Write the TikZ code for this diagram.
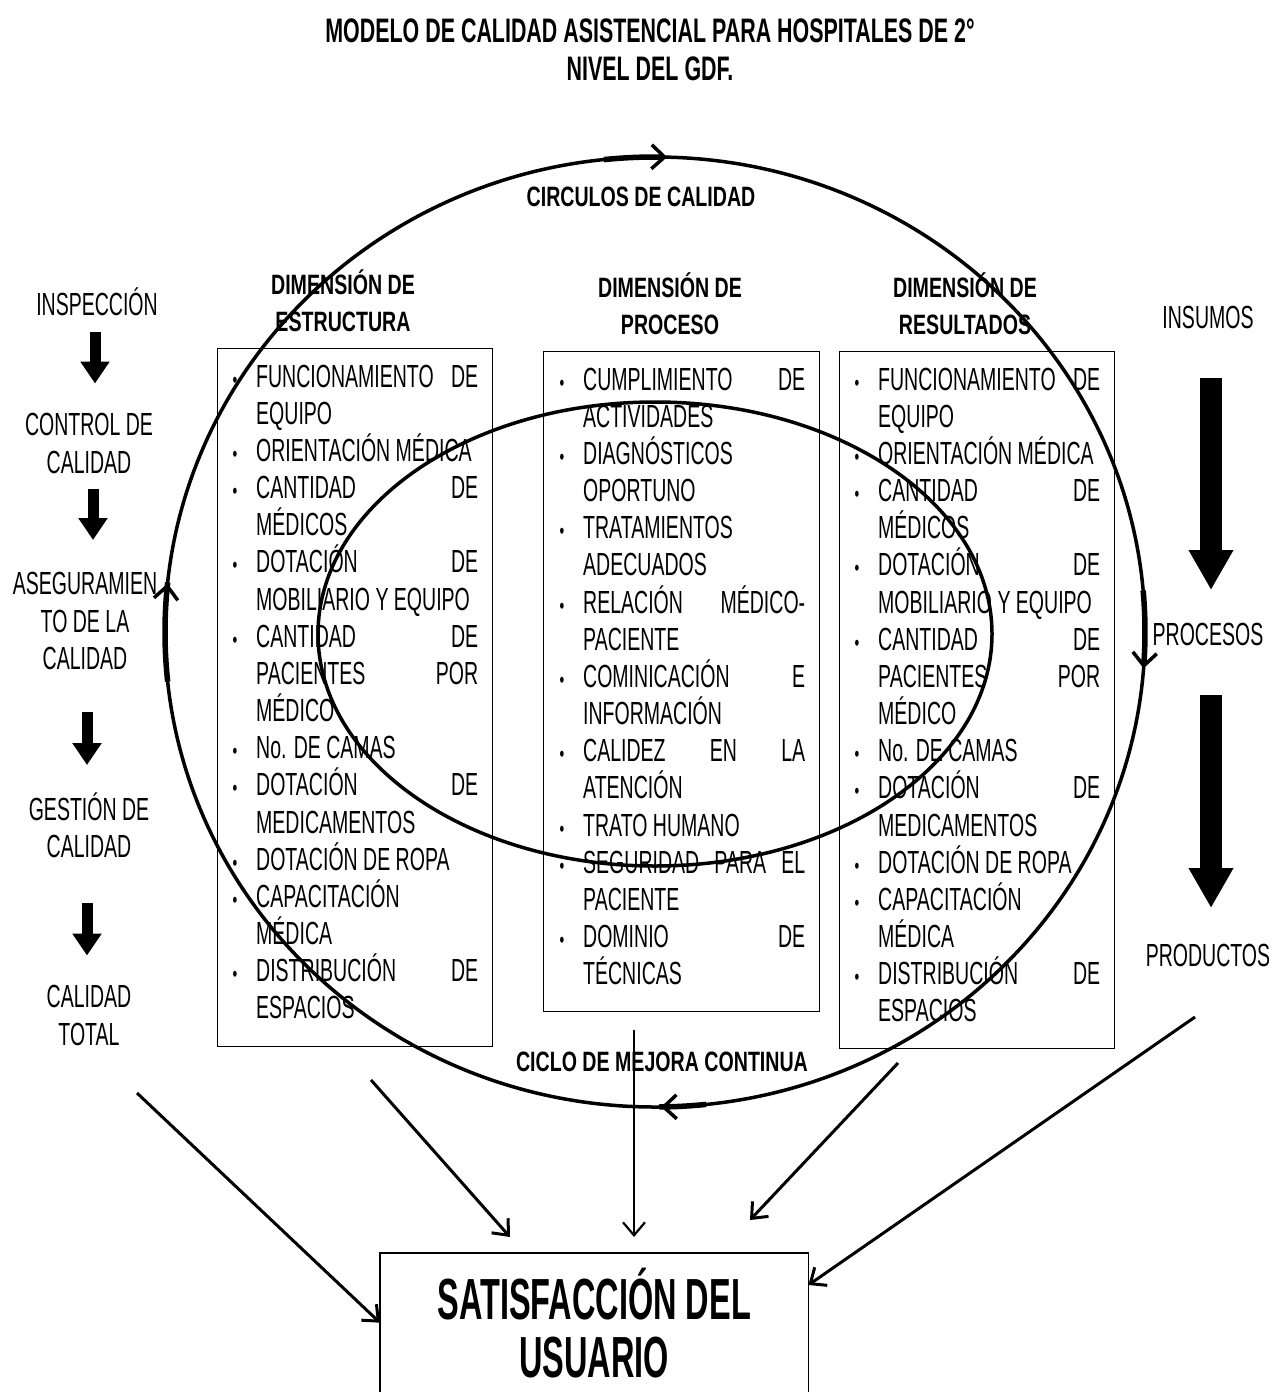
\documentclass[tikz,border=0pt]{standalone}
\usepackage{fontspec}
\setmainfont{Liberation Sans}
\newfontfamily\bodyf[FakeStretch=0.61]{Liberation Sans}
\newfontfamily\hdrf[FakeStretch=0.70]{Liberation Sans}
\newfontfamily\titf[FakeStretch=0.63]{Liberation Sans}
\newfontfamily\satf[FakeStretch=0.56]{Liberation Sans}
\usetikzlibrary{arrows.meta,decorations.markings}
\newcommand\bul{\llap{{\fontsize{22}{22}\selectfont •}\hspace{19pt}}}
\newcommand\Ln[1]{\hbox to 222pt{#1\hfil}}
\newcommand\Fl[1]{\hbox to 222pt{\rule{0pt}{30pt}#1\hfil}}
\begin{document}
\begin{tikzpicture}[x=1pt,y=-1pt,
  body/.style={font=\bodyf\fontsize{32}{37.15}\selectfont, inner sep=0pt},
  listtext/.style={body, anchor=north west},
  hdr/.style={font=\hdrf\bfseries\fontsize{28}{37}\selectfont, inner sep=0pt, align=center},
  lbl/.style={body, align=center},
  dimbox/.style={draw, line width=1.2pt, inner sep=0pt, anchor=north west},
  ring/.style={line width=3.5pt},
  thickseg/.style={line width=5.5pt},
  ringarrows/.style={ring, postaction={decorate}, decoration={markings,
      mark=at position 0.012 with {\arrow{Straight Barb[length=13pt,width=24pt]}},
      mark=at position 0.248 with {\arrow{Straight Barb[length=13pt,width=24pt]}},
      mark=at position 0.516 with {\arrow{Straight Barb[length=13pt,width=24pt]}},
      mark=at position 0.754 with {\arrow{Straight Barb[length=13pt,width=24pt]}}}},
  blkL/.style={line width=11pt, -{Triangle[length=22pt,width=28pt]}},
  blkR/.style={line width=22pt, -{Triangle[length=40pt,width=42pt]}},
  toarr/.style={line width=3pt, -{Straight Barb[length=13pt,width=22pt]}},
]
\fill[white] (0,0) rectangle (1276,1392);
\useasboundingbox (0,0) rectangle (1276,1392);

% title
\node[font=\titf\bfseries\fontsize{34}{38}\selectfont, align=center, inner sep=0pt] (title) at (650,50)
  {MODELO DE CALIDAD ASISTENCIAL PARA HOSPITALES DE 2°\\NIVEL DEL GDF.};

% headers
\node[hdr] (hE) at (343,300.5) {DIMENSIÓN DE\\ESTRUCTURA};
\node[hdr] (hP) at (670,303.5) {DIMENSIÓN DE\\PROCESO};
\node[hdr] (hR) at (965,303.5) {DIMENSIÓN DE\\RESULTADOS};
\node[hdr] (circ) at (641,197) {CIRCULOS DE CALIDAD};
\node[hdr] (ciclo) at (662,1062) {CICLO DE MEJORA CONTINUA};

% boxes
\node[dimbox, minimum width=275pt, minimum height=698pt] (bxE) at (217,348) {};
\node[dimbox, minimum width=276pt, minimum height=660pt] (bxP) at (543,351) {};
\node[dimbox, minimum width=275pt, minimum height=697pt] (bxR) at (839,351) {};

\node[listtext] (tE) at (256,357) {\vbox{%
\Fl{\bul FUNCIONAMIENTO\hfill DE}
\Ln{EQUIPO}
\Ln{\bul ORIENTACIÓN MÉDICA}
\Ln{\bul CANTIDAD\hfill DE}
\Ln{MÉDICOS}
\Ln{\bul DOTACIÓN\hfill DE}
\Ln{MOBILIARIO Y EQUIPO}
\Ln{\bul CANTIDAD\hfill DE}
\Ln{PACIENTES\hfill POR}
\Ln{MÉDICO}
\Ln{\bul No. DE CAMAS}
\Ln{\bul DOTACIÓN\hfill DE}
\Ln{MEDICAMENTOS}
\Ln{\bul DOTACIÓN DE ROPA}
\Ln{\bul CAPACITACIÓN}
\Ln{MÉDICA}
\Ln{\bul DISTRIBUCIÓN\hfill DE}
\Ln{ESPACIOS}}};

\node[listtext] (tP) at (583,360) {\vbox{%
\Fl{\bul CUMPLIMIENTO\hfill DE}
\Ln{ACTIVIDADES}
\Ln{\bul DIAGNÓSTICOS}
\Ln{OPORTUNO}
\Ln{\bul TRATAMIENTOS}
\Ln{ADECUADOS}
\Ln{\bul RELACIÓN\hfill MÉDICO-}
\Ln{PACIENTE}
\Ln{\bul COMINICACIÓN\hfill E}
\Ln{INFORMACIÓN}
\Ln{\bul CALIDEZ\hfill EN\hfill LA}
\Ln{ATENCIÓN}
\Ln{\bul TRATO HUMANO}
\Ln{\bul SEGURIDAD\hfill PARA\hfill EL}
\Ln{PACIENTE}
\Ln{\bul DOMINIO\hfill DE}
\Ln{TÉCNICAS}}};

\node[listtext] (tR) at (878,360) {\vbox{%
\Fl{\bul FUNCIONAMIENTO\hfill DE}
\Ln{EQUIPO}
\Ln{\bul ORIENTACIÓN MÉDICA}
\Ln{\bul CANTIDAD\hfill DE}
\Ln{MÉDICOS}
\Ln{\bul DOTACIÓN\hfill DE}
\Ln{MOBILIARIO Y EQUIPO}
\Ln{\bul CANTIDAD\hfill DE}
\Ln{PACIENTES\hfill POR}
\Ln{MÉDICO}
\Ln{\bul No. DE CAMAS}
\Ln{\bul DOTACIÓN\hfill DE}
\Ln{MEDICAMENTOS}
\Ln{\bul DOTACIÓN DE ROPA}
\Ln{\bul CAPACITACIÓN}
\Ln{MÉDICA}
\Ln{\bul DISTRIBUCIÓN\hfill DE}
\Ln{ESPACIOS}}};

% left column
\node[lbl] (insp) at (97,302) {INSPECCIÓN};
\node[lbl] (ctrl) at (89,443.5) {CONTROL DE\\CALIDAD};
\node[lbl] (aseg) at (85,621) {ASEGURAMIEN\\TO DE LA\\CALIDAD};
\node[lbl] (gest) at (89,825) {GESTIÓN DE\\CALIDAD};
\node[lbl] (ctot) at (89,1015.5) {CALIDAD\\TOTAL};

\draw[blkL, shorten <=30pt, shorten >=60pt] ([xshift=-2pt]insp.center) -- ([xshift=-2pt]insp.center |- ctrl.center);
\draw[blkL, shorten <=45pt, shorten >=81pt] ([xshift=4pt]ctrl.center) -- ([xshift=4pt]ctrl.center |- aseg.center);
\draw[blkL, shorten <=91pt, shorten >=60pt] ([xshift=2pt]aseg.center) -- ([xshift=2pt]aseg.center |- gest.center);
\draw[blkL, shorten <=78pt, shorten >=60pt] ([xshift=-2pt]gest.center) -- ([xshift=-2pt]gest.center |- ctot.center);

% right column
\node[lbl] (ins) at (1208,317) {INSUMOS};
\node[lbl] (proc) at (1208,634) {PROCESOS};
\node[lbl] (prod) at (1208,955) {PRODUCTOS};

\draw[blkR, shorten <=61pt, shorten >=44pt] ([xshift=3pt]ins.center) -- ([xshift=3pt]ins.center |- proc.center);
\draw[blkR, shorten <=61pt, shorten >=47pt] ([xshift=3pt]proc.center) -- ([xshift=3pt]proc.center |- prod.center);

% ellipses
\draw[ringarrows] (655,632) ellipse [x radius=490, y radius=475];
\draw[thickseg] (655,632) ++(264:490 and 475) arc[start angle=264, end angle=271, x radius=490, y radius=475];
\draw[thickseg] (655,632) ++(174:490 and 475) arc[start angle=174, end angle=186, x radius=490, y radius=475];
\draw[thickseg] (655,632) ++(-5:490 and 475) arc[start angle=-5, end angle=3.5, x radius=490, y radius=475];
\draw[thickseg] (655,632) ++(84:490 and 475) arc[start angle=84, end angle=89.5, x radius=490, y radius=475];
\draw[ring] (655,634) ellipse [x radius=337, y radius=232];

% satisfaction box
\node[font=\satf\bfseries\fontsize{58}{58}\selectfont, align=center, inner sep=0pt,
      minimum width=428pt, minimum height=139pt, anchor=north west] (sat) at (380,1253)
  {SATISFACCIÓN DEL\\USUARIO};
\draw[line width=1.5pt] (sat.south west) -- (sat.north west) -- (sat.north east) -- (sat.south east);

\coordinate (s1) at (137,1093);
\coordinate (s2) at (371,1080);
\coordinate (e2) at (510,1237);
\coordinate (s3) at (634,1030);
\coordinate (e3) at (634,1237);
\coordinate (s4) at (898,1063);
\coordinate (e4) at (750,1220);
\coordinate (s5) at (1195,1017);

\draw[toarr] (s1) -- (sat.west);
\draw[toarr] (s2) -- (e2);
\draw[toarr, line width=2.2pt] (s3) -- (e3);
\draw[toarr] (s4) -- (e4);
\draw[toarr] (s5) -- ([yshift=-32pt]sat.north east);
\end{tikzpicture}
\end{document}
